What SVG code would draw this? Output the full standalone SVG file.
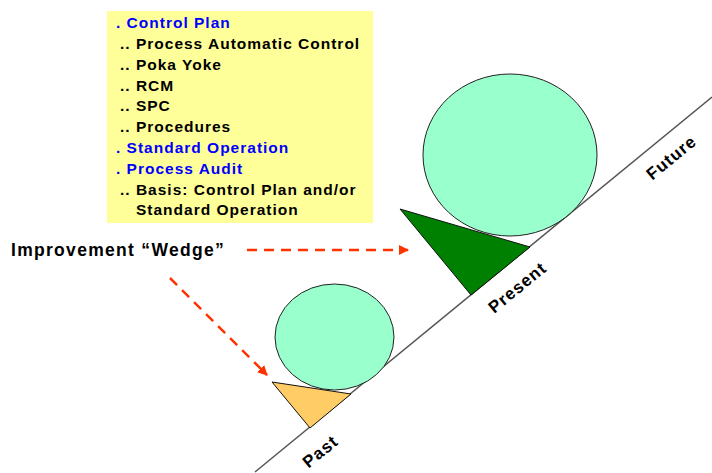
<svg xmlns="http://www.w3.org/2000/svg" width="712" height="473" viewBox="0 0 712 473">
  <defs>
    <marker id="head" viewBox="0 0 10 10" refX="9" refY="5" markerWidth="4" markerHeight="4" orient="auto" markerUnits="strokeWidth">
      <path d="M0,0 L10,5 L0,10 z" fill="#FF3300"/>
    </marker>
    <style>
      .txt { font-family: "Liberation Sans", Arial, sans-serif; font-weight: bold; font-size: 15.5px; letter-spacing: 1px; }
      .blue { fill: #0000FF; }
      .black { fill: #000000; }
      .ball { fill: #99FFCC; stroke: #222222; stroke-width: 1; }
      .wedge { stroke: #111111; stroke-width: 1; stroke-linejoin: round; }
      .dash { fill: none; stroke: #FF3300; stroke-width: 2.5; stroke-dasharray: 10 7; }
      .slope-lbl { font-family: "Liberation Sans", Arial, sans-serif; font-weight: bold; font-size: 17px; letter-spacing: 1px; fill: #000; }
    </style>
  </defs>

  <rect width="712" height="473" fill="#FFFFFF"/>

  <!-- checklist box -->
  <g id="checklist">
    <rect x="107" y="11" width="266" height="212" fill="#FFFF99"/>
    <text class="txt blue" x="116" y="28">. Control Plan</text>
    <text class="txt black" x="120" y="49">.. Process Automatic Control</text>
    <text class="txt black" x="120" y="70">.. Poka Yoke</text>
    <text class="txt black" x="120" y="91">.. RCM</text>
    <text class="txt black" x="120" y="111">.. SPC</text>
    <text class="txt black" x="120" y="132">.. Procedures</text>
    <text class="txt blue" x="116" y="153">. Standard Operation</text>
    <text class="txt blue" x="116" y="174">. Process Audit</text>
    <text class="txt black" x="120" y="195">.. Basis: Control Plan and/or</text>
    <text class="txt black" x="136" y="215">Standard Operation</text>
  </g>

  <!-- time slope -->
  <g id="slope">
    <line x1="255" y1="472" x2="712" y2="97" stroke="#555555" stroke-width="1.5"/>
    <text class="slope-lbl" transform="translate(324,456) rotate(-39.4)" text-anchor="middle">Past</text>
    <text class="slope-lbl" transform="translate(521,292) rotate(-39.4)" text-anchor="middle">Present</text>
    <text class="slope-lbl" transform="translate(675,162) rotate(-39.4)" text-anchor="middle">Future</text>
  </g>

  <!-- past: small ball held by small wedge -->
  <g id="past-ball">
    <ellipse class="ball" cx="334.5" cy="337" rx="59.5" ry="53"/>
  </g>
  <g id="past-wedge">
    <polygon class="wedge" points="272,382 351,394 310,428" fill="#FFCC66"/>
  </g>

  <!-- present: big ball held by big wedge -->
  <g id="present-ball">
    <ellipse class="ball" cx="510" cy="155" rx="87" ry="81"/>
  </g>
  <g id="present-wedge">
    <polygon class="wedge" points="400,209 530,247 471,295" fill="#008000"/>
  </g>

  <g id="label">
    <text class="txt black" x="11" y="256" style="font-size:17.5px;letter-spacing:1.3px">Improvement “Wedge”</text>
  </g>

  <!-- connectors -->
  <g id="connectors">
    <line class="dash" x1="247" y1="250" x2="408" y2="250" marker-end="url(#head)"/>
    <line class="dash" x1="170" y1="278" x2="267" y2="375" marker-end="url(#head)"/>
  </g>
</svg>
